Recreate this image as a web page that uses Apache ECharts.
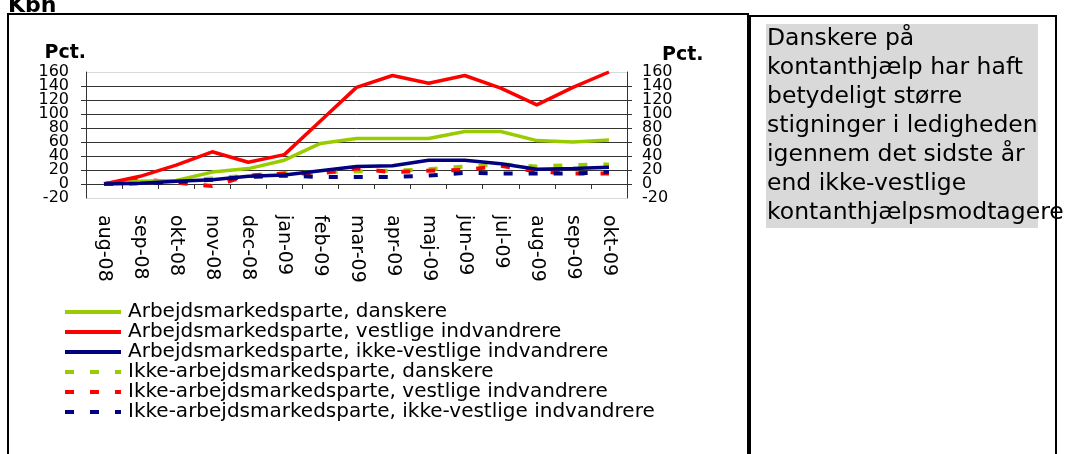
<!DOCTYPE html>
<html>
<head>
<meta charset="utf-8">
<script src="https://cdn.jsdelivr.net/npm/echarts@6/dist/echarts.min.js"></script>
<style>
  html, body { margin: 0; padding: 0; background: #fff; }
  #chart { width: 1067px; height: 454px; }
</style>
</head>
<body>
<div id="chart"></div>
<script>
// måneder
const categories = ['aug-08', 'sep-08', 'okt-08', 'nov-08', 'dec-08', 'jan-09', 'feb-09', 'mar-09',
  'apr-09', 'maj-09', 'jun-09', 'jul-09', 'aug-09', 'sep-09', 'okt-09'];

// stigning i pct.
const arbDanskere = [0, 4, 5, 17, 22, 34, 58, 65, 65, 65, 75, 75, 62, 60, 63];
const arbVestlige = [0, 11, 27, 46, 31, 42, 90, 138, 155, 144, 155, 137, 113, 138, 160];
const arbIkkeVestlige = [0, 1, 4, 6, 11, 13, 19, 25, 26, 34, 34, 29, 21, 22, 24];
const ikkeArbDanskere = [0, 3, 4, 8, 12, 15, 17, 18, 19, 21, 25, 28, 25, 27, 28];
const ikkeArbVestlige = [0, 7, 2, -3, 12, 15, 15, 22, 17, 19, 20, 26, 18, 15, 15];
const ikkeArbIkkeVestlige = [0, 1, 3, 6, 10, 12, 10, 10, 10, 12, 16, 15, 15, 15, 17];

const seriesNames = [
  'Arbejdsmarkedsparte, danskere',
  'Arbejdsmarkedsparte, vestlige indvandrere',
  'Arbejdsmarkedsparte, ikke-vestlige indvandrere',
  'Ikke-arbejdsmarkedsparte, danskere',
  'Ikke-arbejdsmarkedsparte, vestlige indvandrere',
  'Ikke-arbejdsmarkedsparte, ikke-vestlige indvandrere'
];

const boxText = ['Danskere på', 'kontanthjælp har haft', 'betydeligt større', 'stigninger i ledigheden',
  'igennem det sidste år', 'end ikke-vestlige', 'kontanthjælpsmodtagere'];

const font = '"DejaVu Sans", Verdana, sans-serif';
const yMin = -20, yMax = 160, yStep = 20;

let myChart = echarts.init(document.getElementById('chart'));

function line(name, data, color, dashed) {
  return {
    name: name,
    type: 'line',
    data: data,
    yAxisIndex: 0,
    symbol: 'none',
    smooth: false,
    color: color,
    lineStyle: {
      color: color,
      width: dashed ? 4 : 3.5,
      type: dashed ? [9, 16] : 'solid'
    },
    z: dashed ? 2 : 3
  };
}

// gitterlinjer: -20 og 160 lyse, resten mørke
const gridColors = ['#d9d9d9', '#333', '#333', '#333', '#333', '#333', '#333', '#333', '#333', '#d9d9d9'];

// main: akse med streg, ticks og de inderste tal
// ends: kun -20 og 160 (ellers skjuler echarts dem pga. overlap)
function yAxis(pos, ends) {
  return {
    type: 'value',
    position: pos,
    min: yMin,
    max: yMax,
    interval: yStep,
    axisLine: { show: !ends, lineStyle: { color: '#333', width: 1 } },
    axisTick: { show: !ends, length: 5, lineStyle: { color: '#333' } },
    axisLabel: {
      color: '#000',
      fontSize: 16,
      fontFamily: font,
      showMinLabel: ends,
      showMaxLabel: ends,
      margin: pos === 'left' ? 17 : 15,
      formatter: function (v) {
        if (ends) return (v === yMin || v === yMax) ? String(v) : '';
        return String(v);
      }
    },
    splitLine: { show: pos === 'left' && !ends, lineStyle: { color: gridColors, width: 1 } }
  };
}

myChart.setOption({
  animation: false,
  backgroundColor: '#fff',
  grid: {
    left: 86,
    right: 440,
    top: 72,
    bottom: 256
  },
  xAxis: {
    type: 'category',
    data: categories,
    boundaryGap: true,
    axisLine: { show: true, onZero: true, onZeroAxisIndex: 0, lineStyle: { color: '#333', width: 1 } },
    axisTick: { show: true, length: 5, lineStyle: { color: '#333' } },
    axisLabel: {
      rotate: -90,
      interval: 0,
      color: '#000',
      fontSize: 19,
      fontFamily: font,
      margin: 17
    },
    splitLine: { show: false }
  },
  yAxis: [yAxis('left', false), yAxis('right', false), yAxis('left', true), yAxis('right', true)],
  legend: {
    orient: 'vertical',
    left: 63,
    top: 302,
    padding: 0,
    itemGap: 0,
    itemWidth: 56,
    itemHeight: 14,
    itemStyle: { opacity: 0 },
    lineStyle: { width: 4 },
    textStyle: { color: '#000', fontSize: 20, fontFamily: font, lineHeight: 19.8, padding: [0, 0, 0, 2] },
    data: seriesNames
  },
  series: [
    line(seriesNames[0], arbDanskere, '#99cc00', false),
    line(seriesNames[1], arbVestlige, '#ff0000', false),
    line(seriesNames[2], arbIkkeVestlige, '#000080', false),
    line(seriesNames[3], ikkeArbDanskere, '#99cc00', true),
    line(seriesNames[4], ikkeArbVestlige, '#ff0000', true),
    line(seriesNames[5], ikkeArbIkkeVestlige, '#000080', true)
  ],
  graphic: [
    {
      type: 'text', left: 8, top: -5, z: 1,
      style: { text: 'Kbh', font: 'bold 22px ' + font, fill: '#000' }
    },
    {
      type: 'rect', z: 10,
      shape: { x: 8, y: 14, width: 740, height: 460 },
      style: { fill: 'none', stroke: '#000', lineWidth: 2 }
    },
    {
      type: 'rect', z: 10,
      shape: { x: 750, y: 16, width: 306, height: 460 },
      style: { fill: 'none', stroke: '#000', lineWidth: 2 }
    },
    {
      type: 'rect', z: 1,
      shape: { x: 766, y: 24, width: 272, height: 204 },
      style: { fill: '#d9d9d9' }
    },
    {
      type: 'text', z: 2, x: 767, y: 24,
      style: { text: boxText.join('\n'), font: '23.5px ' + font, lineHeight: 29, fill: '#000' }
    },
    {
      type: 'text', z: 2, x: 86, y: 44,
      style: { text: 'Pct.', font: 'bold 19px ' + font, fill: '#000', align: 'right' }
    },
    {
      type: 'text', z: 2, x: 662, y: 46,
      style: { text: 'Pct.', font: 'bold 19px ' + font, fill: '#000' }
    }
  ]
});
</script>
</body>
</html>
